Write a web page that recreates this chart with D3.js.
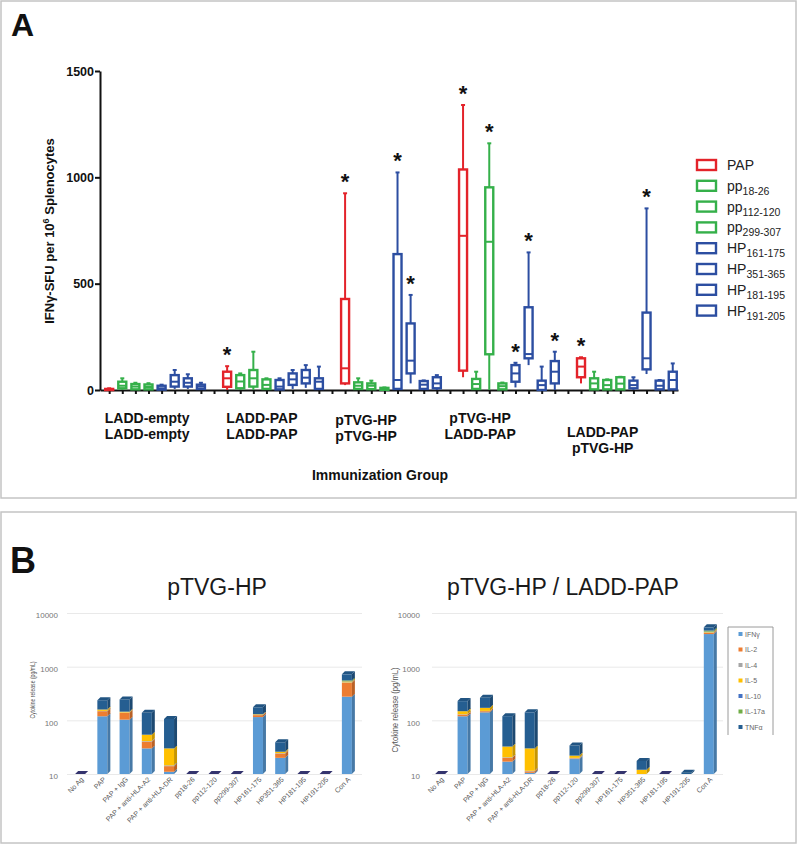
<!DOCTYPE html>
<html><head><meta charset="utf-8">
<script src="https://cdn.jsdelivr.net/npm/d3@7"></script>
<style>body{margin:0;background:#fff}svg{display:block;font-family:"Liberation Sans",Arial,sans-serif}</style>
</head><body><svg id="c" width="800" height="844"></svg>
<script>
// ---------- Panel A data ----------
const peptideBase = ["PAP","pp","pp","pp","HP","HP","HP","HP"];
const peptideSub  = ["","18-26","112-120","299-307","161-175","351-365","181-195","191-205"];
const groupLine1 = ["LADD-empty","LADD-PAP","pTVG-HP","pTVG-HP","LADD-PAP"];
const groupLine2 = ["LADD-empty","LADD-PAP","pTVG-HP","LADD-PAP","pTVG-HP"];
// each box: [min, q1, median, q3, max]
const boxesLaddEmpty = [[0,0,2,5,8],[0,8,20,39,55],[0,3,16,28,34],[0,3,14,26,32],[0,2,8,20,25],[5,16,39,70,94],[5,16,34,55,74],[0,5,16,25,34]];
const boxesLaddPap   = [[0,15,55,86,112],[0,8,40,70,78],[0,16,55,94,180],[0,5,24,50,55],[0,3,16,47,55],[5,24,50,78,94],[10,31,58,94,117],[0,5,39,55,110]];
const boxesTvgTvg    = [[23,31,102,428,925],[0,5,20,36,55],[0,4,20,31,44],[0,1,5,10,12],[0,5,47,639,1023],[31,78,138,313,447],[0,5,25,42,45],[0,8,31,60,70]];
const boxesTvgLadd   = [[60,91,725,1037,1340],[0,5,28,52,86],[0,168,697,953,1160],[0,3,18,31,35],[12,39,78,117,128],[117,149,169,389,647],[0,0,23,44,110],[0,31,86,136,180]];
const boxesLaddTvg   = [[31,60,110,149,154],[0,3,31,55,86],[0,3,23,47,50],[0,3,30,60,62],[0,8,23,44,60],[75,97,149,364,854],[0,3,20,44,47],[0,3,47,86,125]];
const allBoxes = [boxesLaddEmpty, boxesLaddPap, boxesTvgTvg, boxesTvgLadd, boxesLaddTvg];
// significant responses: [group, peptide]
const stars = [[1,0],[2,0],[2,4],[2,5],[3,0],[3,2],[3,4],[3,5],[3,7],[4,0],[4,5]];
const yTicksA = [0,500,1000,1500];

// ---------- Panel B data ----------
const categoriesB = ["No Ag","PAP","PAP + IgG","PAP + anti-HLA-A2","PAP + anti-HLA-DR","pp18-26","pp112-120","pp299-307","HP161-175","HP351-365","HP181-195","HP191-205","Con A"];
const cytokines = ["IFNγ","IL-2","IL-4","IL-5","IL-10","IL-17a","TNFα"];
// rows follow cytokines, columns follow categoriesB (pg/mL)
const dataTvgHp = [
  [0,119,103,30,11,0,0,0,115,20,0,0,276],
  [0,29,35,10,3,0,0,0,10,4,0,0,224],
  [0,2,2,1,0.5,0,0,0,2,0.5,0,0,10],
  [0,9,5,13,15.5,0,0,0,3,1.5,0,0,20],
  [0,0,0,0,0,0,0,0,0,0,0,0,5],
  [0,0,0,0,0,0,0,0,0,0,0,0,20],
  [0,78,100,84,76,0,0,0,45,13,0,0,164]
];
const dataTvgLadd = [
  [0,119,141,17,10.5,0,19,0,0,9,0,0,4050],
  [0,9,7,3,0.7,0,0.5,0,0,0,0,0,200],
  [0,2,2,0.5,0.3,0,0.5,0,0,0,0,0,100],
  [0,18,21,12,18.5,0,2,0,0,3,0,0,100],
  [0,0,0,0,0,0,0,0,0,0,0,0,50],
  [0,0,0,0,0,0,0,0,0,0,0,0,200],
  [0,80,92,87,111,0,12,0,0,5.5,0,10.6,700]
];
const yTicksB = [10,100,1000,10000];

// ---------- styles ----------
const peptideColors = ["#e3232a","#35b04a","#35b04a","#35b04a","#2c4ea1","#2c4ea1","#2c4ea1","#2c4ea1"];
const cytoColors = ["#5b9bd5","#ed7d31","#a5a5a5","#ffc000","#4472c4","#70ad47","#255e91"];

const svg = d3.select("#c");
// frames
svg.append("rect").attr("x",1).attr("y",1).attr("width",795).attr("height",497)
  .attr("fill","none").attr("stroke","#c4c4c4").attr("stroke-width",1.5);
svg.append("rect").attr("x",1).attr("y",512).attr("width",795).attr("height",331)
  .attr("fill","none").attr("stroke","#c4c4c4").attr("stroke-width",1.5);

// ================= Panel A =================
svg.append("text").attr("x",11).attr("y",36).attr("font-size",32).attr("font-weight","bold").attr("fill","#111").text("A");

const xA = d3.scaleLinear().domain([-0.7, 43.4]).range([100, 678]);
const yA = d3.scaleLinear().domain([0,1500]).range([390, 71]);
const slot = (g,p) => g*9 + p;

const axY = svg.append("g").attr("transform","translate(100,0)")
  .call(d3.axisLeft(yA).tickValues(yTicksA).tickSize(5).tickSizeOuter(0).tickPadding(1).tickFormat(d3.format("d")));
axY.attr("font-family","Liberation Sans, Arial, sans-serif");
axY.select(".domain").attr("stroke","#111").attr("stroke-width",2);
axY.selectAll(".tick line").attr("stroke","#111").attr("stroke-width",2);
axY.selectAll(".tick text").attr("font-size",12.5).attr("font-weight","bold").attr("fill","#111");

const axX = svg.append("g").attr("transform","translate(0,390)")
  .call(d3.axisBottom(xA).tickValues(d3.range(44)).tickSize(4).tickSizeOuter(0).tickFormat(""));
axX.select(".domain").attr("stroke","#111").attr("stroke-width",2);
axX.selectAll(".tick line").attr("stroke","#111").attr("stroke-width",2);

// y label
const yl = svg.append("text").attr("transform","translate(54,231) rotate(-90)")
  .attr("text-anchor","middle").attr("font-size",13).attr("font-weight","bold").attr("fill","#111");
yl.append("tspan").text("IFNγ-SFU per 10");
yl.append("tspan").attr("dy",-5).attr("font-size",9).text("6");
yl.append("tspan").attr("dy",5).text(" Splenocytes");

// boxes
const bw = 8;
allBoxes.forEach((grp,g) => {
  grp.forEach((b,p) => {
    const cx = xA(slot(g,p)); const col = peptideColors[p];
    const [mn,q1,md,q3,mx] = b;
    const G = svg.append("g").attr("stroke",col).attr("fill","none");
    G.append("line").attr("x1",cx).attr("x2",cx).attr("y1",yA(mx)).attr("y2",yA(q3)).attr("stroke-width",2);
    G.append("line").attr("x1",cx).attr("x2",cx).attr("y1",yA(q1)).attr("y2",yA(mn)).attr("stroke-width",2);
    G.append("line").attr("x1",cx-2).attr("x2",cx+2).attr("y1",yA(mx)).attr("y2",yA(mx)).attr("stroke-width",2);
    G.append("rect").attr("x",cx-bw/2).attr("width",bw).attr("y",yA(q3)).attr("height",Math.max(0.5,yA(q1)-yA(q3)))
      .attr("fill","#fff").attr("stroke-width",2.4);
    G.append("line").attr("x1",cx-bw/2).attr("x2",cx+bw/2).attr("y1",yA(md)).attr("y2",yA(md)).attr("stroke-width",2);
  });
});
// asterisks
stars.forEach(([g,p]) => {
  svg.append("text").attr("x",xA(slot(g,p))).attr("y",yA(allBoxes[g][p][4])-4)
    .attr("text-anchor","middle").attr("font-size",22).attr("font-weight","bold").attr("fill","#111").text("*");
});
// group labels
const labelShift = [-0.6,-0.85,-1.9,-2.2,-1.85];
const labelBase = [423,423,425,423,437];
groupLine1.forEach((t,g) => {
  const x = xA(slot(g,3.5)+labelShift[g]);
  const T = svg.append("text").attr("text-anchor","middle").attr("font-size",14).attr("font-weight","bold").attr("fill","#111");
  T.append("tspan").attr("x",x).attr("y",labelBase[g]).text(t);
  T.append("tspan").attr("x",x).attr("y",labelBase[g]+15.5).text(groupLine2[g]);
});
svg.append("text").attr("x",380).attr("y",480).attr("text-anchor","middle").attr("font-size",14)
  .attr("font-weight","bold").attr("fill","#111").text("Immunization Group");

// legend A
peptideBase.forEach((b,i) => {
  const cy = 165 + i*20.8;
  svg.append("rect").attr("x",697).attr("y",cy-5).attr("width",19).attr("height",10)
    .attr("fill","#fff").attr("stroke",peptideColors[i]).attr("stroke-width",2.4);
  const T = svg.append("text").attr("x",727).attr("y",cy+5).attr("font-size",14).attr("fill","#222");
  T.append("tspan").text(b);
  if (peptideSub[i]) T.append("tspan").attr("dy",4).attr("font-size",10.5).text(peptideSub[i]);
});

// ================= Panel B =================
svg.append("text").attr("x",10).attr("y",573).attr("font-size",36).attr("font-weight","bold").attr("fill","#111").text("B");
const yB = d3.scaleLog().domain([10,10000]).range([774,613]);

function drawCyto(data, x0, x1, gx0, gx1, tickX, title, titleX, ylX, ylY, ylLen, ylSize) {
  const xB = d3.scaleBand().domain(categoriesB).range([x0,x1]);
  const ax = svg.append("g").attr("transform",`translate(${gx0},0)`)
    .call(d3.axisLeft(yB).tickValues(yTicksB).tickSize(-(gx1-gx0)).tickPadding(gx0-tickX).tickFormat(d3.format("d")));
  ax.attr("font-family","Liberation Sans, Arial, sans-serif");
  ax.select(".domain").remove();
  ax.selectAll(".tick line").attr("stroke","#e9e9e9").attr("stroke-width",1);
  ax.selectAll(".tick text").attr("font-size",8).attr("fill","#777").attr("dy","0.6em");
  svg.append("text").attr("x",titleX).attr("y",595).attr("text-anchor","middle").attr("font-size",23).attr("fill","#1a1a1a").text(title);
  svg.append("text").attr("transform",`translate(${ylX},${ylY}) rotate(-90)`).attr("text-anchor","middle")
    .attr("font-size",ylSize).attr("fill","#555").attr("textLength",ylLen).attr("lengthAdjust","spacingAndGlyphs")
    .text("Cytokine release (pg/mL)");
  const w = 10, d = 3;
  categoriesB.forEach((cat,i) => {
    const cx = xB(cat) + xB.bandwidth()/2;
    let cum = 0, topY = null, topCol = null;
    cytokines.forEach((ck,k) => {
      const v = data[k][i]; const lo = cum, hi = cum + v; cum = hi;
      if (v <= 0 || hi <= 10) return;
      const y0 = yB(Math.max(lo,10)), y1 = yB(hi); const col = cytoColors[k];
      svg.append("rect").attr("x",cx-w/2).attr("y",y1).attr("width",w).attr("height",y0-y1).attr("fill",col);
      svg.append("polygon").attr("points",`${cx+w/2},${y1} ${cx+w/2+d},${y1-d} ${cx+w/2+d},${y0-d} ${cx+w/2},${y0}`)
        .attr("fill",d3.color(col).darker(0.7));
      topY = y1; topCol = col;
    });
    if (topY === null) {
      const yb = yB(10);
      svg.append("polygon").attr("points",`${cx-w/2},${yb} ${cx-w/2+d},${yb-d} ${cx+w/2+d},${yb-d} ${cx+w/2},${yb}`)
        .attr("fill","#34346e");
    } else {
      svg.append("polygon").attr("points",`${cx-w/2},${topY} ${cx-w/2+d},${topY-d} ${cx+w/2+d},${topY-d} ${cx+w/2},${topY}`)
        .attr("fill",d3.color(topCol).darker(0.3));
    }
    svg.append("text").attr("transform",`translate(${cx+4},780) rotate(-45)`).attr("text-anchor","end")
      .attr("font-size",7).attr("fill","#555").text(cat);
  });
}
drawCyto(dataTvgHp, 69, 358, 67, 362, 58, "pTVG-HP", 217, 35, 690, 57, 6.5);
drawCyto(dataTvgLadd, 429, 720, 432, 723, 420, "pTVG-HP / LADD-PAP", 563, 398, 710, 85, 8.5);

// legend B
svg.append("path").attr("d","M728,735V627H773V735").attr("fill","#fff").attr("stroke","#9a9a9a").attr("stroke-width",1);
cytokines.forEach((c,k) => {
  const cy = 634 + k*15.5;
  svg.append("rect").attr("x",738.5).attr("y",cy-2).attr("width",4).attr("height",4).attr("fill",cytoColors[k]);
  svg.append("text").attr("x",745).attr("y",cy+2.5).attr("font-size",7).attr("fill","#666").text(c);
});
</script></body></html>
